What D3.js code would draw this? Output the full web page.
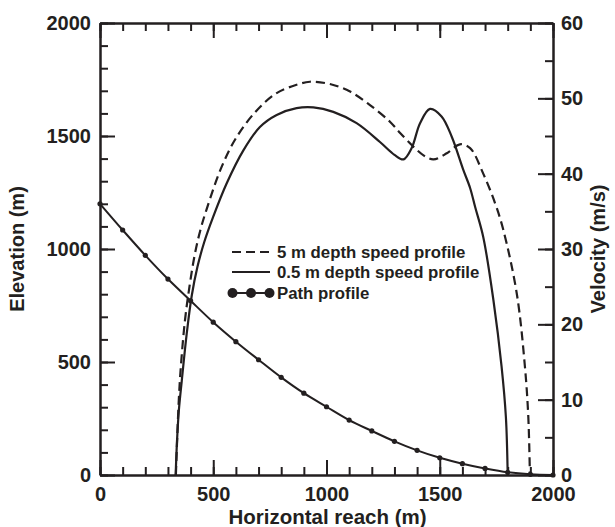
<!DOCTYPE html>
<html><head><meta charset="utf-8">
<script src="https://cdn.jsdelivr.net/npm/d3@7"></script>
<style>
body{margin:0;background:#fff;}
svg text{font-family:"Liberation Sans",Arial,sans-serif;font-weight:bold;fill:#231f20;}
</style></head>
<body><svg id="c" width="615" height="527"></svg>
<script>
// ---- data ----
const pathReach = [0,100,200,300,400,500,600,700,800,900,1000,1100,1200,1300,1400,1500,1600,1700,1800,1900,2000];
const pathElevation = [1200,1084,972,867,771,676,590,510,432,362,302,243,195,149,109,76,50,29,12,3,0];

const speed05Reach = [334,340,348,361,383,405,430,460,500,559,633,706,780,868,942,1030,1133,1236,1300,1340,1376,1413,1457,1508,1553,1604,1634,1656,1692,1737,1773,1792,1800];
const speed05Vel   = [0,4.5,8.5,12.5,18.8,23.8,27.6,30.9,34.3,38.7,43.1,46.2,47.8,48.7,48.8,48.2,46.7,44.2,42.5,41.9,43.4,46.7,48.6,47.6,44.9,40.5,38.1,35.6,31.6,23.2,14.4,7.7,0];

const speed5Reach = [335,341,348,356,375,395,418,443,471,537,604,692,780,868,927,1015,1104,1192,1280,1325,1383,1430,1472,1531,1589,1634,1692,1744,1781,1840,1876,1891,1898];
const speed5Vel   = [0,5,10,14,20.5,25,29.2,32.5,35.3,40.9,44.9,48.4,50.7,51.8,52.2,51.9,50.9,49.1,46.9,45.4,43.6,42.4,41.9,42.7,43.9,43.4,40.0,36.1,32.5,24.1,14.4,7.7,0];

const xTicksMajor = [0,500,1000,1500,2000];
const elevTicksMajor = [0,500,1000,1500,2000];
const velTicksMajor = [0,10,20,30,40,50,60];
const legendLabels = ["5 m depth speed profile","0.5 m depth speed profile","Path profile"];

// ---- layout ----
const L=100,R=553,T=23,B=475;
const svg=d3.select("#c");
const x=d3.scaleLinear().domain([0,2000]).range([L,R]);
const yE=d3.scaleLinear().domain([0,2000]).range([B,T]);
const yV=d3.scaleLinear().domain([0,60]).range([B,T]);
const ink="#231f20";

function styleAxis(g){
  g.selectAll("path.domain").attr("stroke",ink).attr("stroke-width",2);
  g.selectAll(".tick line").attr("stroke",ink).attr("stroke-width",2);
  g.selectAll(".tick text").attr("font-size",20).attr("fill",ink).attr("font-family","Liberation Sans, Arial, sans-serif").attr("font-weight","bold");
}
const minor = (lo,hi,step)=>d3.range(lo,hi+step/2,step);

// bottom
svg.append("g").attr("transform",`translate(0,${B})`).call(d3.axisBottom(x).tickValues(minor(0,2000,100)).tickSizeInner(-8).tickSizeOuter(0).tickFormat("")).call(styleAxis);
svg.append("g").attr("transform",`translate(0,${B})`).call(d3.axisBottom(x).tickValues(xTicksMajor).tickSizeInner(-15).tickSizeOuter(0).tickPadding(12).tickFormat(d3.format("d"))).call(styleAxis);
// top
svg.append("g").attr("transform",`translate(0,${T})`).call(d3.axisTop(x).tickValues(minor(0,2000,100)).tickSizeInner(-8).tickSizeOuter(0).tickFormat("")).call(styleAxis);
svg.append("g").attr("transform",`translate(0,${T})`).call(d3.axisTop(x).tickValues(xTicksMajor).tickSizeInner(-15).tickSizeOuter(0).tickFormat("")).call(styleAxis);
// left
svg.append("g").attr("transform",`translate(${L},0)`).call(d3.axisLeft(yE).tickValues(minor(0,2000,100)).tickSizeInner(-8).tickSizeOuter(0).tickFormat("")).call(styleAxis);
svg.append("g").attr("transform",`translate(${L},0)`).call(d3.axisLeft(yE).tickValues(elevTicksMajor).tickSizeInner(-15).tickSizeOuter(0).tickPadding(9).tickFormat(d3.format("d"))).call(styleAxis);
// right
svg.append("g").attr("transform",`translate(${R},0)`).call(d3.axisRight(yV).tickValues(minor(0,60,5)).tickSizeInner(-8).tickSizeOuter(0).tickFormat("")).call(styleAxis);
svg.append("g").attr("transform",`translate(${R},0)`).call(d3.axisRight(yV).tickValues(velTicksMajor).tickSizeInner(-15).tickSizeOuter(0).tickPadding(8).tickFormat(d3.format("d"))).call(styleAxis);

// curves
const lineV=d3.line().x(d=>x(d[0])).y(d=>yV(d[1])).curve(d3.curveCatmullRom.alpha(0.5));
const lineE=d3.line().x(d=>x(d[0])).y(d=>yE(d[1])).curve(d3.curveCatmullRom.alpha(0.5));
const s5=speed5Reach.map((r,i)=>[r,speed5Vel[i]]);
const s05=speed05Reach.map((r,i)=>[r,speed05Vel[i]]);
const pth=pathReach.map((r,i)=>[r,pathElevation[i]]);

svg.append("path").attr("d",lineV(s5)).attr("fill","none").attr("stroke",ink).attr("stroke-width",2.2).attr("stroke-dasharray","9,5");
svg.append("path").attr("d",lineV(s05)).attr("fill","none").attr("stroke",ink).attr("stroke-width",2.2);
svg.append("path").attr("d",lineE(pth)).attr("fill","none").attr("stroke",ink).attr("stroke-width",2);
svg.append("g").selectAll("circle").data(pth).join("circle")
  .attr("cx",d=>x(d[0])).attr("cy",d=>yE(d[1])).attr("r",2.6).attr("fill",ink);

// legend
const lg=svg.append("g");
const ly=[252,272,293];
lg.append("line").attr("x1",232).attr("x2",270).attr("y1",ly[0]).attr("y2",ly[0]).attr("stroke",ink).attr("stroke-width",2.2).attr("stroke-dasharray","9,5");
lg.append("line").attr("x1",232).attr("x2",270).attr("y1",ly[1]).attr("y2",ly[1]).attr("stroke",ink).attr("stroke-width",2.2);
lg.append("line").attr("x1",232).attr("x2",270).attr("y1",ly[2]).attr("y2",ly[2]).attr("stroke",ink).attr("stroke-width",2);
[232.5,251,269.5].forEach(cx=>lg.append("circle").attr("cx",cx).attr("cy",ly[2]).attr("r",5).attr("fill",ink));
legendLabels.forEach((t,i)=>lg.append("text").attr("x",277).attr("y",ly[i]).attr("dy","0.35em").attr("font-size",16.8).text(t));

// axis titles
svg.append("text").attr("x",(L+R)/2+1).attr("y",524).attr("text-anchor","middle").attr("font-size",20.5).text("Horizontal reach (m)");
svg.append("text").attr("transform",`translate(24,${(T+B)/2}) rotate(-90)`).attr("text-anchor","middle").attr("font-size",20).text("Elevation (m)");
svg.append("text").attr("transform",`translate(605,${(T+B)/2}) rotate(-90)`).attr("text-anchor","middle").attr("font-size",20).text("Velocity (m/s)");
// cut-off caption fragment at top
svg.append("text").attr("x",52).attr("y",-6).attr("font-size",20).attr("font-weight","normal").text("g");
</script></body></html>
